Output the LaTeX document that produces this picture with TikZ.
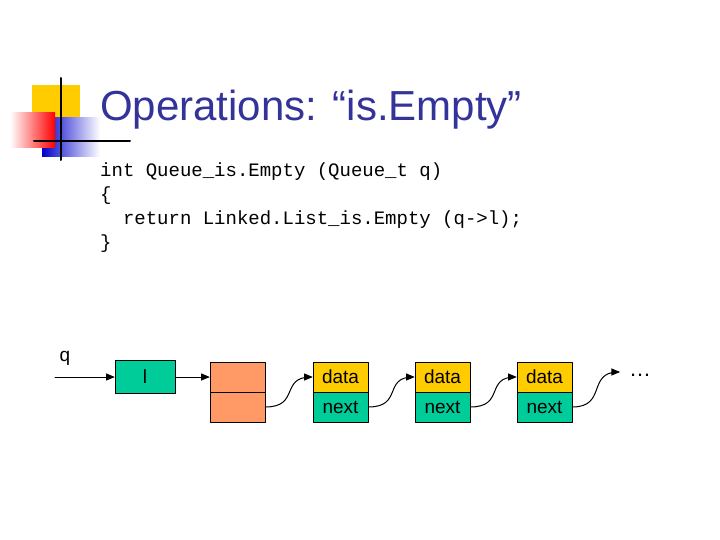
\documentclass[tikz,border=0pt]{standalone}
\usepackage{fontspec}
\setmainfont{Liberation Sans}
\setmonofont{Liberation Mono}
\usetikzlibrary{arrows,shadings}
\definecolor{navy}{RGB}{51,51,153}
\definecolor{cellgreen}{RGB}{0,204,153}
\definecolor{cellyellow}{RGB}{255,204,0}
\definecolor{cellorange}{RGB}{255,153,102}
\tikzset{cell/.style={draw=black,line width=0.6pt,minimum width=55pt,minimum height=30pt,inner sep=0pt,font=\fontsize{19}{19}\selectfont},
  link/.style={line width=1.pt,->,>=triangle 45}}
\begin{document}
\begin{tikzpicture}[line cap=round,line join=round,x=1pt,y=-1pt]
\useasboundingbox (0,0) rectangle (720,540);
% logo
\fill [cellyellow] (32,85) rectangle (80,118);
\shade [left color=blue!80!black,right color=white] (42,118) rectangle (100,157);
\shade [left color=white,right color=red] (10,113) rectangle (55,148);
\draw [line width=2.pt] (61,78)-- (61,160);
\draw [line width=2.pt] (34,141)-- (130,141);
% title
\node [anchor=base west,inner sep=0pt,text=navy,font=\fontsize{42}{42}\selectfont] (title) at (100,121) {Operations: “is.Empty”};
% code
\node [anchor=north west,inner sep=0pt,align=left,font=\ttfamily\fontsize{19}{24}\selectfont] (code) at (100,163)
{int Queue\_is.Empty (Queue\_t q)\\\{\\\ \ return Linked.List\_is.Empty (q->l);\\\}};
% queue
\node [font=\fontsize{19}{19}\selectfont] (qlabel) at (65,358) {q};
\coordinate (qstart) at (55,377);
\node [cell,fill=cellgreen,minimum width=60pt,minimum height=33pt] (lbox) at (145,377) {l};
\node [cell,fill=cellorange] (head) at (237.5,377) {};
\node [cell,fill=cellorange] (headnext) at (237.5,407) {};
\node [cell,fill=cellyellow] (data1) at (340.5,377) {data};
\node [cell,fill=cellgreen] (next1) at (340.5,407) {next};
\node [cell,fill=cellyellow] (data2) at (442.5,377) {data};
\node [cell,fill=cellgreen] (next2) at (442.5,407) {next};
\node [cell,fill=cellyellow] (data3) at (544.5,377) {data};
\node [cell,fill=cellgreen] (next3) at (544.5,407) {next};
\node [font=\fontsize{22}{22}\selectfont] (dots) at (640,375) {\dots};
\coordinate (tail) at (620,372);

\draw [link] (qstart) -- (lbox.west);
\draw [link] (lbox.east) -- (head.west);
\draw [link] (headnext.east) .. controls (300,407) and (280,377) .. (data1.west);
\draw [link] (next1.east) .. controls (403,407) and (383,377) .. (data2.west);
\draw [link] (next2.east) .. controls (505,407) and (485,377) .. (data3.west);
\draw [link] (next3.east) .. controls (607,407) and (587,372) .. (tail);
\end{tikzpicture}
\end{document}
